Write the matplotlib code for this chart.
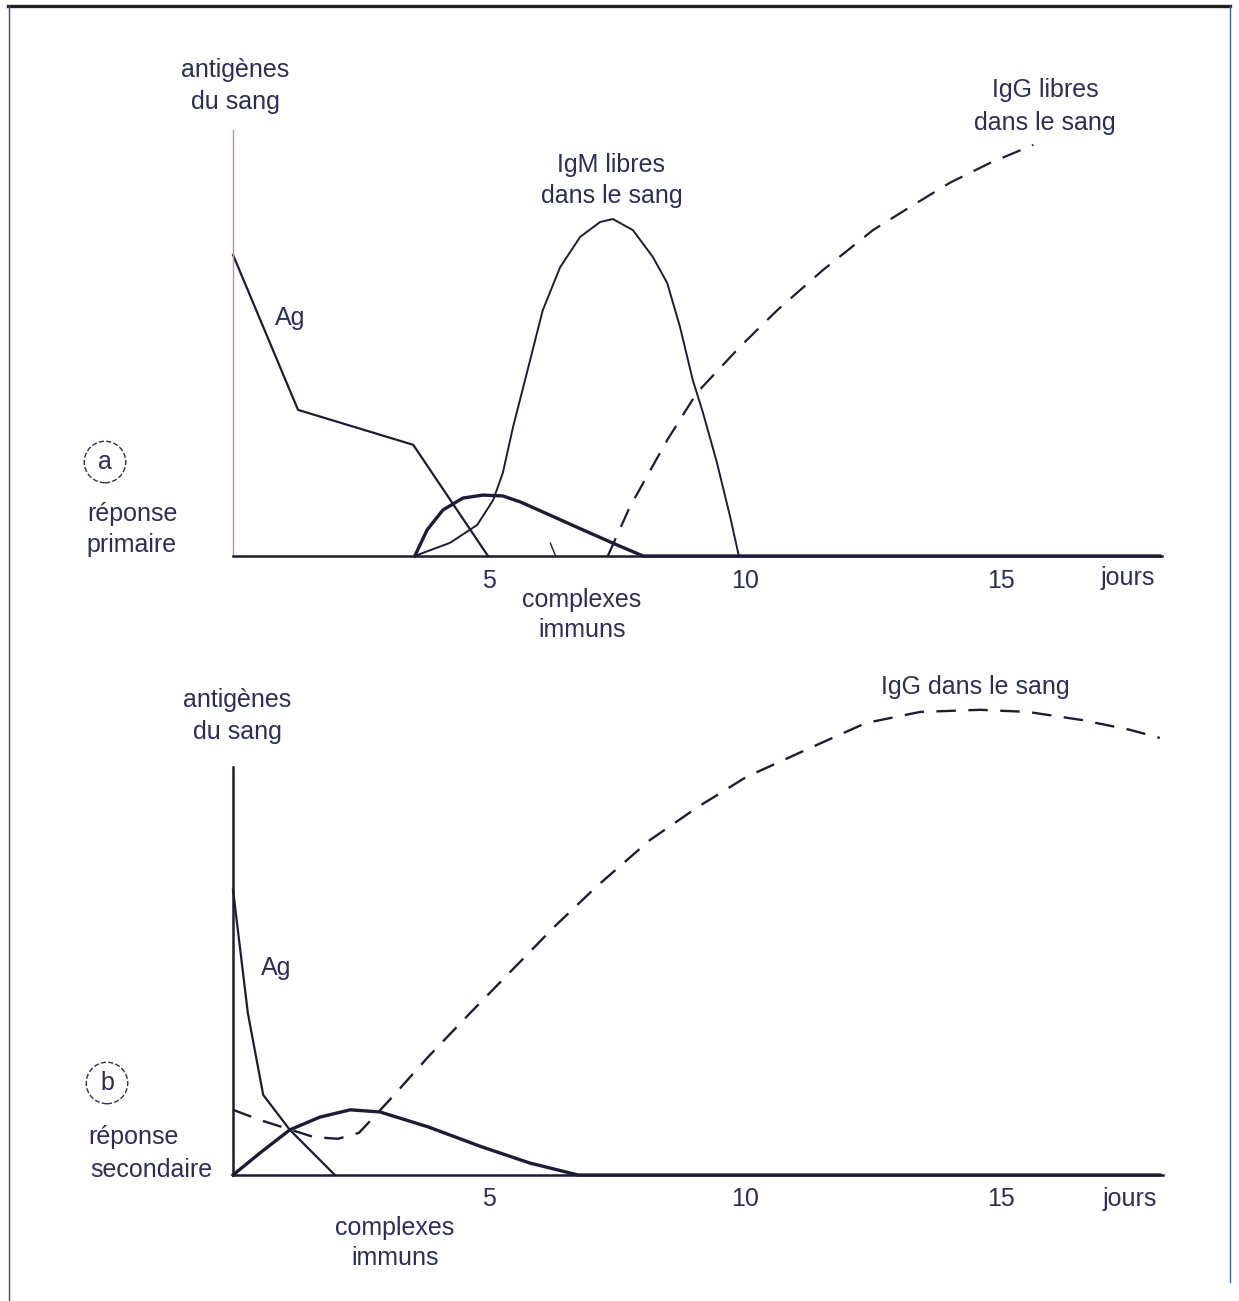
import numpy as np
import matplotlib
matplotlib.use('Agg')
import matplotlib.pyplot as plt

plt.rcParams['font.family'] = ['Liberation Sans', 'DejaVu Sans']
plt.rcParams['lines.scale_dashes'] = False

W, H = 1239, 1301
ink = '#1c1c34'
txt = '#2a2f5a'

## panel a : réponse primaire (x en jours, y unités arbitraires)
a_ag_x = [0.0, 1.27, 3.52, 4.98]
a_ag_y = [70.7, 34.3, 26.1, 0.0]

a_igm_x = [3.55, 4.24, 4.77, 5.08, 5.27, 5.47, 5.74, 6.05, 6.39, 6.78, 7.17, 7.42,
           7.81, 8.20, 8.48, 8.73, 8.98, 9.18, 9.45, 9.71, 9.88]
a_igm_y = [0.0, 3.1, 7.3, 13.1, 19.5, 30.3, 43.0, 57.7, 67.8, 74.9, 78.4, 79.1,
           76.5, 70.2, 64.1, 53.8, 41.3, 33.6, 22.0, 9.2, 0.0]

a_cx_x = [3.55, 3.79, 4.10, 4.49, 4.88, 5.27, 5.61, 6.19, 6.84, 7.50, 8.01, 18.1]
a_cx_y = [0.0, 6.1, 10.8, 13.6, 14.3, 14.1, 12.7, 9.6, 6.1, 2.6, 0.0, 0.0]

a_igg_x = [7.32, 7.75, 8.48, 9.06, 9.90, 10.63, 11.52, 12.5, 13.22, 14.0, 14.79, 15.63]
a_igg_y = [0.0, 11.5, 27.2, 38.3, 49.1, 57.7, 67.1, 76.5, 81.9, 87.6, 92.3, 96.5]

## panel b : réponse secondaire
b_ag_x = [0.0, 0.29, 0.59, 1.11, 1.99]
b_ag_y = [67.0, 38.0, 18.8, 10.6, 0.0]

b_cx_x = [0.0, 0.53, 1.11, 1.70, 2.29, 2.87, 3.81, 4.86, 5.8, 6.74, 18.1]
b_cx_y = [0.0, 5.2, 10.6, 13.6, 15.3, 14.8, 11.3, 6.6, 2.8, 0.0, 0.0]

b_igg_x = [0.0, 0.53, 1.58, 2.05, 2.46, 2.75, 3.11, 3.81, 4.63, 5.45, 6.27, 7.09,
           8.14, 9.08, 10.02, 11.19, 12.36, 13.42, 14.59, 15.53, 16.58, 17.52, 18.1]
b_igg_y = [15.3, 12.9, 8.9, 8.5, 9.9, 13.6, 18.3, 27.7, 38.0, 48.1, 58.2, 67.6,
           78.6, 86.4, 93.4, 99.8, 106.1, 108.7, 109.2, 108.7, 106.8, 104.5, 102.6]

ticks = [5, 10, 15]
tick_labels = ['5', '10', '15']

px_day = 51.2
px_unit = 4.26

fig = plt.figure(figsize=(W / 100, H / 100), dpi=100)


def fx(x):
    return x / W


def fy(y):
    return 1 - y / H


def make_axes(x0, y0, x1, ytop, ylim_top):
    # axes placed with pixel origin (x0, y0), x end x1, y axis up to ytop
    xmax = (x1 - x0) / px_day
    h = ylim_top * px_unit
    ax = fig.add_axes([fx(x0), fy(y0), (x1 - x0) / W, h / H])
    ax.set_xlim(0, xmax)
    ax.set_ylim(0, ylim_top)
    ax.patch.set_alpha(0)
    for s in ['top', 'right']:
        ax.spines[s].set_visible(False)
    ax.spines['left'].set_bounds(0, (y0 - ytop) / px_unit)
    ax.spines['bottom'].set_color(ink)
    ax.spines['bottom'].set_linewidth(1.8)
    ax.set_yticks([])
    ax.set_xticks(ticks)
    ax.set_xticklabels(tick_labels, fontsize=18, color=txt)
    ax.tick_params(axis='x', length=0, pad=9)
    return ax


# panel a
ax1 = make_axes(233, 556, 1162, 130, 110)
ax1.spines['left'].set_color('#c58aa8')
ax1.spines['left'].set_linewidth(1.0)
ax1.plot(a_ag_x, a_ag_y, color=ink, lw=1.6, clip_on=False)
ax1.plot(a_igm_x, a_igm_y, color=ink, lw=1.4, clip_on=False)
ax1.plot(a_cx_x, a_cx_y, color=ink, lw=2.4, clip_on=False)
ax1.plot(a_igg_x, a_igg_y, color=ink, lw=1.6, clip_on=False, dashes=(14, 9))
ax1.plot([6.2, 6.3], [3.0, 0.0], color=ink, lw=1.0)

# panel b
ax2 = make_axes(233, 1175, 1163, 767, 118)
ax2.spines['left'].set_color(ink)
ax2.spines['left'].set_linewidth(1.8)
ax2.plot(b_ag_x, b_ag_y, color=ink, lw=1.6, clip_on=False)
ax2.plot(b_cx_x, b_cx_y, color=ink, lw=2.4, clip_on=False)
ax2.plot(b_igg_x, b_igg_y, color=ink, lw=1.7, clip_on=False, dashes=(14, 9))


def label(x, y, s, size=18, **kw):
    fig.text(fx(x), fy(y), s, fontsize=size, color=txt, ha='center', va='center', **kw)


# textes panel a
label(235, 70, 'antigènes')
label(235, 102, 'du sang')
label(1045, 90, 'IgG libres')
label(1045, 123, 'dans le sang')
label(611, 165, 'IgM libres')
label(612, 196, 'dans le sang')
label(290, 318, 'Ag')
label(105, 462, 'a', bbox=dict(boxstyle='circle,pad=0.35', fc='none', ec=txt, ls='--', lw=1.0))
label(132, 514, 'réponse')
label(132, 545, 'primaire')
label(1128, 578, 'jours')
label(582, 600, 'complexes')
label(582, 630, 'immuns')

# textes panel b
label(237, 700, 'antigènes')
label(237, 732, 'du sang')
label(975, 687, 'IgG dans le sang')
label(276, 968, 'Ag')
label(107, 1083, 'b', bbox=dict(boxstyle='circle,pad=0.35', fc='none', ec=txt, ls='--', lw=1.0))
label(133, 1137, 'réponse')
label(151, 1170, 'secondaire')
label(1130, 1199, 'jours')
label(395, 1228, 'complexes')
label(395, 1258, 'immuns')

# cadre
fig.add_artist(plt.Line2D([fx(8), fx(1230)], [fy(6), fy(6)], color='#202020', lw=2.4))
fig.add_artist(plt.Line2D([fx(9), fx(9)], [fy(6), fy(1301)], color='#3a4a8a', lw=1.0))
fig.add_artist(plt.Line2D([fx(1230), fx(1230)], [fy(6), fy(1282)], color='#3a6aa0', lw=1.0))

fig.savefig('out.png', dpi=100)
